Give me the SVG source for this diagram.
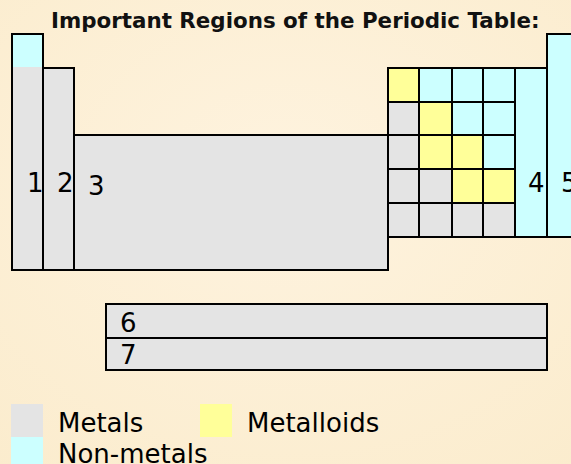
<svg xmlns="http://www.w3.org/2000/svg" width="571" height="464" viewBox="0 0 571 464">
<style>
.m{fill:#e4e4e4}
.n{fill:#ccffff}
.y{fill:#ffff99}
.b{fill:none;stroke:#000;stroke-width:2}
.c{stroke:#000;stroke-width:2}
.lbl{font-family:"DejaVu Sans",Verdana,sans-serif;font-size:26px;fill:#000}
.title{font-family:"DejaVu Sans",Verdana,sans-serif;font-size:21.4px;font-weight:bold;fill:#111}
</style>
<defs>
<radialGradient id="bg" cx="0.5" cy="0.4" r="0.8">
<stop offset="0" stop-color="#fef3df"/>
<stop offset="1" stop-color="#fbeccd"/>
</radialGradient>
</defs>
<rect x="0" y="0" width="571" height="464" fill="url(#bg)"/>
<text class="title" x="51" y="28">Important Regions of the Periodic Table:</text>

<g id="col1">
<rect class="n" x="12" y="34" width="31" height="33"/>
<rect class="m" x="12" y="67" width="31" height="203"/>
<rect class="b" x="12" y="34" width="31" height="236"/>
<text class="lbl" x="27" y="192">1</text>
</g>
<g id="col2">
<rect class="m c" x="43" y="68" width="31" height="202"/>
<text class="lbl" x="57" y="192">2</text>
</g>
<g id="region3">
<rect class="m c" x="74" y="135" width="314" height="135"/>
<text class="lbl" x="88" y="195">3</text>
</g>
<g id="pblock">
<rect class="y c" x="388" y="68" width="31" height="34"/>
<rect class="n c" x="419" y="68" width="33" height="34"/>
<rect class="n c" x="452" y="68" width="31" height="34"/>
<rect class="n c" x="483" y="68" width="32" height="34"/>
<rect class="m c" x="388" y="102" width="31" height="33"/>
<rect class="y c" x="419" y="102" width="33" height="33"/>
<rect class="n c" x="452" y="102" width="31" height="33"/>
<rect class="n c" x="483" y="102" width="32" height="33"/>
<rect class="m c" x="388" y="135" width="31" height="34"/>
<rect class="y c" x="419" y="135" width="33" height="34"/>
<rect class="y c" x="452" y="135" width="31" height="34"/>
<rect class="n c" x="483" y="135" width="32" height="34"/>
<rect class="m c" x="388" y="169" width="31" height="34"/>
<rect class="m c" x="419" y="169" width="33" height="34"/>
<rect class="y c" x="452" y="169" width="31" height="34"/>
<rect class="y c" x="483" y="169" width="32" height="34"/>
<rect class="m c" x="388" y="203" width="31" height="34"/>
<rect class="m c" x="419" y="203" width="33" height="34"/>
<rect class="m c" x="452" y="203" width="31" height="34"/>
<rect class="m c" x="483" y="203" width="32" height="34"/>
</g>
<g id="col4">
<rect class="n c" x="515" y="68" width="32" height="169"/>
<text class="lbl" x="528" y="192">4</text>
</g>
<g id="col5">
<rect class="n c" x="547" y="34" width="30" height="203"/>
<text class="lbl" x="561" y="192">5</text>
</g>
<g id="row6">
<rect class="m c" x="106" y="304" width="441" height="34"/>
<text class="lbl" x="120" y="332">6</text>
</g>
<g id="row7">
<rect class="m c" x="106" y="338" width="441" height="32"/>
<text class="lbl" x="120" y="364">7</text>
</g>
<g id="legend-metals">
<rect class="m" x="11" y="404" width="32" height="33"/>
<text class="lbl" x="58" y="432">Metals</text>
</g>
<g id="legend-metalloids">
<rect class="y" x="200" y="404" width="32" height="33"/>
<text class="lbl" x="247" y="432">Metalloids</text>
</g>
<g id="legend-nonmetals">
<rect class="n" x="11" y="437" width="32" height="33"/>
<text class="lbl" x="58" y="463">Non-metals</text>
</g>
<g id="connectors"></g>
</svg>
